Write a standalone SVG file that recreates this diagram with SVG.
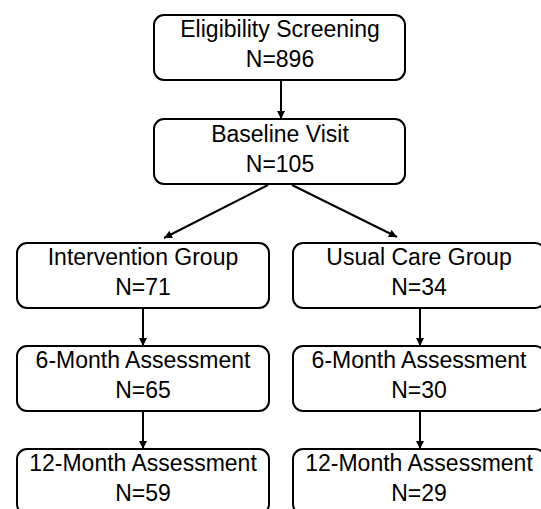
<svg xmlns="http://www.w3.org/2000/svg" width="541" height="509" viewBox="0 0 541 509">
<style>
.box{fill:#fff;stroke:#000;stroke-width:2}
.t{font-family:"Liberation Sans",Arial,sans-serif;font-size:23px;fill:#000;text-anchor:middle}
.c{stroke:#000;stroke-width:2;fill:none}
</style>
<defs>
<marker id="ah" viewBox="0 0 10 10" refX="10" refY="5" markerWidth="9" markerHeight="8" markerUnits="userSpaceOnUse" orient="auto">
<path d="M0,0 L10,5 L0,10 z" fill="#000"/>
</marker>
</defs>
<rect width="541" height="509" fill="#fff"/>
<g id="connectors">
<line class="c" x1="281" y1="80" x2="281" y2="119" marker-end="url(#ah)"/>
<line class="c" x1="268" y1="185" x2="164" y2="238" marker-end="url(#ah)"/>
<line class="c" x1="292" y1="185" x2="397" y2="237" marker-end="url(#ah)"/>
<line class="c" x1="143" y1="308" x2="143" y2="346" marker-end="url(#ah)"/>
<line class="c" x1="143" y1="411" x2="143" y2="449" marker-end="url(#ah)"/>
<line class="c" x1="420" y1="308" x2="420" y2="346" marker-end="url(#ah)"/>
<line class="c" x1="420" y1="411" x2="420" y2="449" marker-end="url(#ah)"/>
</g>
<g id="screening">
<rect class="box" x="154" y="15" width="251" height="65" rx="10"/>
<text class="t" x="280" y="37">Eligibility Screening</text>
<text class="t" x="280" y="67">N=896</text>
</g>
<g id="baseline">
<rect class="box" x="154" y="119" width="251" height="65" rx="10"/>
<text class="t" x="280" y="142">Baseline Visit</text>
<text class="t" x="280" y="172">N=105</text>
</g>
<g id="intervention">
<rect class="box" x="17" y="243" width="252" height="65" rx="10"/>
<text class="t" x="143" y="265">Intervention Group</text>
<text class="t" x="143" y="295">N=71</text>
</g>
<g id="usualcare">
<rect class="box" x="293" y="243" width="252" height="65" rx="10"/>
<text class="t" x="419" y="265">Usual Care Group</text>
<text class="t" x="419" y="295">N=34</text>
</g>
<g id="int6">
<rect class="box" x="17" y="346" width="252" height="65" rx="10"/>
<text class="t" x="143" y="368">6-Month Assessment</text>
<text class="t" x="143" y="398">N=65</text>
</g>
<g id="uc6">
<rect class="box" x="293" y="346" width="252" height="65" rx="10"/>
<text class="t" x="419" y="368">6-Month Assessment</text>
<text class="t" x="419" y="398">N=30</text>
</g>
<g id="int12">
<rect class="box" x="17" y="449" width="252" height="65" rx="10"/>
<text class="t" x="143" y="471">12-Month Assessment</text>
<text class="t" x="143" y="501">N=59</text>
</g>
<g id="uc12">
<rect class="box" x="293" y="449" width="252" height="65" rx="10"/>
<text class="t" x="419" y="471">12-Month Assessment</text>
<text class="t" x="419" y="501">N=29</text>
</g>
</svg>
